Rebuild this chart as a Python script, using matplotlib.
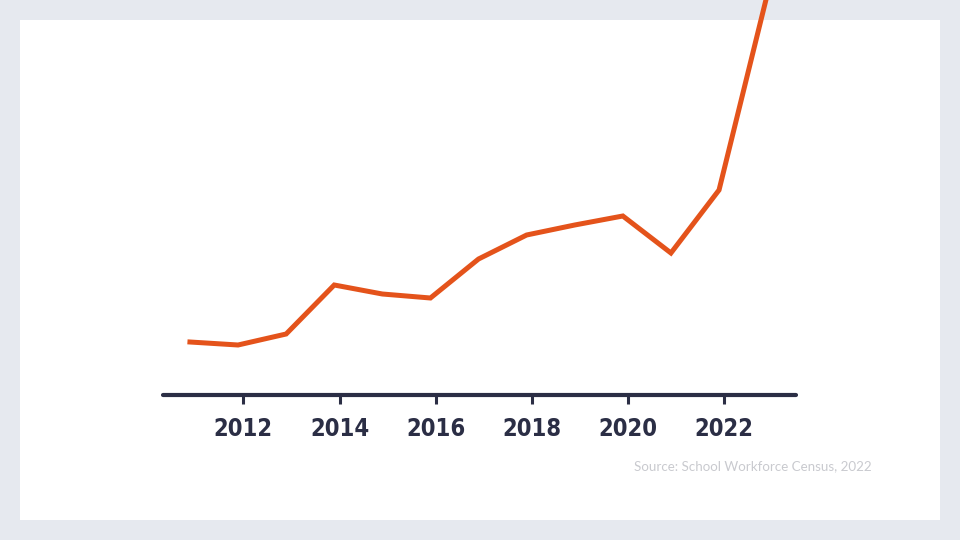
import matplotlib
matplotlib.use('Agg')
import matplotlib.pyplot as plt
from matplotlib.patches import Rectangle

# values (arbitrary units)
years = [2011, 2012, 2013, 2014, 2015, 2016, 2017, 2018, 2019, 2020, 2021, 2022, 2023]
values = [5.3, 5.0, 6.1, 11.0, 10.1, 9.7, 13.6, 16.0, 17.0, 17.9, 14.2, 20.5, 40.0]
tick_years = [2012, 2014, 2016, 2018, 2020, 2022]
tick_labels = [str(y) for y in tick_years]
source = 'Source: School Workforce Census, 2022'

navy = '#2b2e45'
orange = '#e4531b'

fig = plt.figure(figsize=(9.6, 5.4), dpi=100)
fig.patch.set_facecolor('#e6e9ef')
fig.add_artist(Rectangle((20 / 960, 20 / 540), 920 / 960, 500 / 540,
                         transform=fig.transFigure, facecolor='white',
                         edgecolor='none', zorder=-1))

ax = fig.add_axes([163 / 960, 1 - 395 / 540, 633 / 960, 395 / 540])
ax.set_facecolor('none')
ax.plot(years, values, color=orange, lw=3.6, solid_joinstyle='miter', clip_on=False)

ax.set_xlim(2010.44, 2023.6)
ax.set_ylim(0, 39.5)

for s in ['top', 'left', 'right']:
    ax.spines[s].set_visible(False)
ax.spines['bottom'].set_color(navy)
ax.spines['bottom'].set_linewidth(3)
ax.spines['bottom'].set_capstyle('round')
ax.set_yticks([])

# ticks sit slightly right of the data points in the original
ax.set_xticks([y + 0.11 for y in tick_years])
ax.set_xticklabels(tick_labels, fontfamily='DejaVu Sans', fontstretch='condensed',
                   fontweight='bold', fontsize=17, color=navy)
ax.tick_params(axis='x', length=6.5, width=2.2, color=navy, pad=9)

fig.text(872 / 960, 1 - 466 / 540, source, ha='right', va='center',
         color='#c9cacf', fontfamily=['Lato', 'DejaVu Sans'], fontsize=9.6)

fig.savefig('out.png', dpi=100, facecolor=fig.get_facecolor())
